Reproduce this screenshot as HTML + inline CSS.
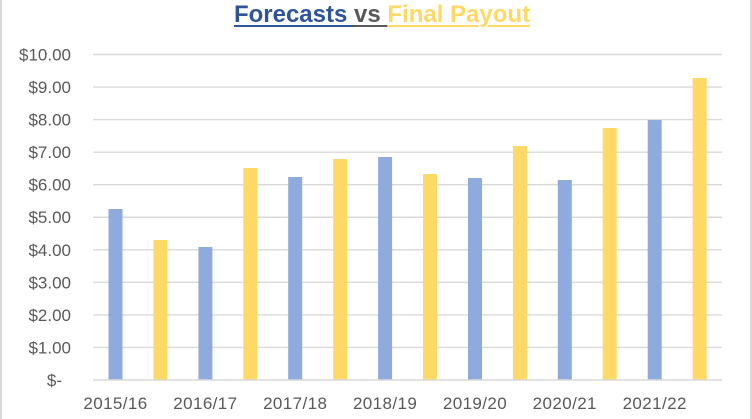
<!DOCTYPE html>
<html><head><meta charset="utf-8"><style>
html,body{margin:0;padding:0;background:#fff;}
#c{position:relative;width:752px;height:419px;overflow:hidden;background:#fff;}
#t{position:absolute;left:6px;width:752px;top:0;text-align:center;font-family:"Liberation Sans",sans-serif;font-weight:bold;font-size:24px;line-height:29px;white-space:nowrap;}
#t span{text-decoration:underline;text-underline-offset:3px;text-decoration-thickness:2px;}
</style></head><body><div id="c">
<svg width="752" height="419" style="position:absolute;left:0;top:0">
<rect x="0" y="0" width="2" height="419" fill="#D9D9D9"/>
<rect x="750" y="0" width="2" height="419" fill="#D9D9D9"/>
<g stroke="#D9D9D9" stroke-width="1.4">
<line x1="93" x2="722" y1="54.5" y2="54.5"/>
<line x1="93" x2="722" y1="87.05" y2="87.05"/>
<line x1="93" x2="722" y1="119.6" y2="119.6"/>
<line x1="93" x2="722" y1="152.15" y2="152.15"/>
<line x1="93" x2="722" y1="184.7" y2="184.7"/>
<line x1="93" x2="722" y1="217.25" y2="217.25"/>
<line x1="93" x2="722" y1="249.8" y2="249.8"/>
<line x1="93" x2="722" y1="282.35" y2="282.35"/>
<line x1="93" x2="722" y1="314.9" y2="314.9"/>
<line x1="93" x2="722" y1="347.45" y2="347.45"/>
</g>
<g font-family="Liberation Sans, sans-serif" font-size="17" fill="#595959" text-anchor="end">
<text x="71" y="60.5">$10.00</text>
<text x="71" y="93">$9.00</text>
<text x="71" y="125.6">$8.00</text>
<text x="71" y="158.1">$7.00</text>
<text x="71" y="190.7">$6.00</text>
<text x="71" y="223.2">$5.00</text>
<text x="71" y="255.8">$4.00</text>
<text x="71" y="288.3">$3.00</text>
<text x="71" y="320.9">$2.00</text>
<text x="71" y="353.4">$1.00</text>
<text x="62" y="386">$-</text>
</g>
<g>
<rect x="108.5" y="209" width="14" height="171" fill="#8FAADC"/>
<rect x="153.4" y="240" width="14" height="140" fill="#FFD966"/>
<rect x="198.4" y="247" width="14" height="133" fill="#8FAADC"/>
<rect x="243.3" y="168" width="14" height="212" fill="#FFD966"/>
<rect x="288.2" y="177" width="14" height="203" fill="#8FAADC"/>
<rect x="333.2" y="159" width="14" height="221" fill="#FFD966"/>
<rect x="378.1" y="157" width="14" height="223" fill="#8FAADC"/>
<rect x="423.0" y="174" width="14" height="206" fill="#FFD966"/>
<rect x="468.0" y="178" width="14" height="202" fill="#8FAADC"/>
<rect x="512.9" y="146" width="14" height="234" fill="#FFD966"/>
<rect x="557.8" y="180" width="14" height="200" fill="#8FAADC"/>
<rect x="602.7" y="128" width="14" height="252" fill="#FFD966"/>
<rect x="647.7" y="120" width="14" height="260" fill="#8FAADC"/>
<rect x="692.6" y="78" width="14" height="302" fill="#FFD966"/>
</g>
<line x1="93" x2="722" y1="380" y2="380" stroke="#D9D9D9" stroke-width="1.5"/>
<g font-family="Liberation Sans, sans-serif" font-size="17" fill="#595959" text-anchor="middle" letter-spacing="0.4">
<text x="115.5" y="409">2015/16</text>
<text x="205.4" y="409">2016/17</text>
<text x="295.2" y="409">2017/18</text>
<text x="385.1" y="409">2018/19</text>
<text x="475" y="409">2019/20</text>
<text x="564.8" y="409">2020/21</text>
<text x="654.7" y="409">2021/22</text>
</g>
</svg>
<div id="t"><span style="color:#2F5597">Forecasts </span><span style="color:#595959">vs </span><span style="color:#FFD966">Final Payout</span></div>
</div></body></html>
